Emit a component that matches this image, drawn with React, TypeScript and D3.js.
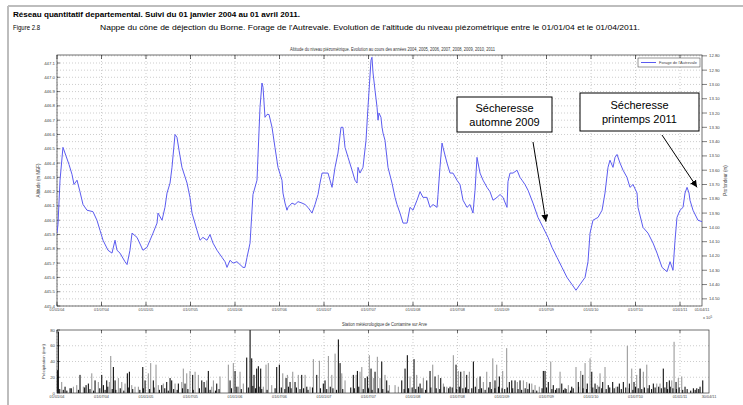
import React from 'react';
import * as d3 from 'd3';

// Piezometric level: [decimal year, altitude m NGF]
const levelSeries: [number, number][] = [
[2004.000,445.91],[2004.011,445.97],[2004.034,446.28],[2004.067,446.51],[2004.101,446.45],[2004.135,446.39],[2004.169,446.32],[2004.191,446.25],[2004.225,446.28],[2004.258,446.20],[2004.292,446.11],[2004.337,446.07],[2004.404,446.06],[2004.449,446.00],[2004.483,445.93],[2004.517,445.86],[2004.573,445.79],[2004.618,445.77],[2004.652,445.86],[2004.674,445.79],[2004.708,445.77],[2004.764,445.71],[2004.787,445.69],[2004.820,445.79],[2004.843,445.91],[2004.899,445.88],[2004.966,445.79],[2005.011,445.81],[2005.045,445.86],[2005.079,445.91],[2005.124,445.98],[2005.135,446.05],[2005.180,446.00],[2005.213,446.09],[2005.236,446.19],[2005.270,446.26],[2005.292,446.37],[2005.326,446.60],[2005.348,446.58],[2005.371,446.49],[2005.404,446.37],[2005.461,446.26],[2005.494,446.16],[2005.517,446.05],[2005.573,445.93],[2005.607,445.86],[2005.640,445.88],[2005.685,445.86],[2005.719,445.90],[2005.753,445.84],[2005.798,445.79],[2005.854,445.74],[2005.888,445.71],[2005.910,445.67],[2005.944,445.72],[2005.978,445.70],[2006.022,445.71],[2006.056,445.69],[2006.090,445.67],[2006.112,445.67],[2006.135,445.74],[2006.169,445.84],[2006.202,446.18],[2006.247,446.28],[2006.281,446.79],[2006.303,446.96],[2006.315,446.93],[2006.337,446.72],[2006.360,446.74],[2006.382,446.74],[2006.416,446.65],[2006.449,446.51],[2006.483,446.37],[2006.528,446.28],[2006.539,446.19],[2006.562,446.12],[2006.584,446.07],[2006.596,446.09],[2006.640,446.12],[2006.674,446.11],[2006.708,446.13],[2006.753,446.12],[2006.787,446.11],[2006.820,446.09],[2006.865,446.05],[2006.899,446.11],[2006.933,446.18],[2006.955,446.26],[2006.978,446.33],[2007.011,446.33],[2007.045,446.33],[2007.090,446.23],[2007.124,446.37],[2007.157,446.47],[2007.191,446.65],[2007.213,446.65],[2007.236,446.51],[2007.270,446.44],[2007.315,446.35],[2007.348,446.28],[2007.371,446.26],[2007.382,446.37],[2007.404,446.33],[2007.438,446.37],[2007.472,446.56],[2007.494,446.79],[2007.528,447.12],[2007.539,447.14],[2007.551,447.03],[2007.573,446.91],[2007.596,446.79],[2007.607,446.70],[2007.618,446.75],[2007.640,446.72],[2007.652,446.65],[2007.663,446.61],[2007.685,446.56],[2007.719,446.37],[2007.764,446.26],[2007.798,446.16],[2007.820,446.11],[2007.854,446.05],[2007.888,445.98],[2007.933,445.98],[2007.966,446.09],[2008.000,446.07],[2008.045,446.14],[2008.079,446.20],[2008.112,446.16],[2008.157,446.16],[2008.191,446.09],[2008.225,446.11],[2008.270,446.09],[2008.281,446.18],[2008.303,446.37],[2008.326,446.54],[2008.337,446.51],[2008.382,446.40],[2008.416,446.33],[2008.449,446.33],[2008.494,446.28],[2008.528,446.25],[2008.562,446.14],[2008.607,446.09],[2008.640,446.11],[2008.674,446.05],[2008.697,446.21],[2008.719,446.44],[2008.753,446.33],[2008.787,446.28],[2008.831,446.23],[2008.865,446.20],[2008.899,446.14],[2008.944,446.16],[2008.978,446.18],[2009.011,446.16],[2009.056,446.09],[2009.067,446.27],[2009.090,446.33],[2009.124,446.33],[2009.169,446.35],[2009.202,446.30],[2009.225,446.28],[2009.258,446.25],[2009.292,446.21],[2009.348,446.12],[2009.404,446.02],[2009.461,445.95],[2009.517,445.88],[2009.562,445.81],[2009.618,445.74],[2009.674,445.67],[2009.730,445.60],[2009.787,445.55],[2009.831,445.51],[2009.876,445.55],[2009.933,445.60],[2009.966,445.71],[2009.989,445.91],[2010.022,446.00],[2010.079,446.02],[2010.124,446.07],[2010.157,446.19],[2010.191,446.37],[2010.213,446.42],[2010.247,446.37],[2010.270,446.44],[2010.292,446.46],[2010.326,446.40],[2010.360,446.35],[2010.404,446.30],[2010.438,446.23],[2010.472,446.25],[2010.517,446.19],[2010.528,446.09],[2010.584,445.95],[2010.640,445.91],[2010.697,445.84],[2010.742,445.77],[2010.798,445.67],[2010.854,445.64],[2010.888,445.71],[2010.921,445.65],[2010.944,445.86],[2010.966,446.02],[2011.000,446.07],[2011.034,446.09],[2011.056,446.19],[2011.079,446.23],[2011.101,446.19],[2011.112,446.14],[2011.146,446.07],[2011.202,446.00],[2011.247,445.99]
];

// Daily rainfall, gauge 1 (dark bars): [decimal year, mm]
const rainDark: [number, number][] = [
[2004.005,29],[2004.015,78],[2004.090,8],[2004.146,6],[2004.258,23],[2004.326,10],[2004.352,12],[2004.427,16],[2004.502,23],[2004.521,10],[2004.558,16],[2004.633,33],[2004.652,16],[2004.790,25],[2004.813,27],[2004.963,33],[2004.989,16],[2005.082,16],[2005.176,10],[2005.232,14],[2005.270,19],[2005.288,16],[2005.363,12],[2005.438,12],[2005.524,23],[2005.626,16],[2005.652,14],[2005.700,28],[2005.794,12],[2005.944,16],[2006.000,28],[2006.131,45],[2006.169,80],[2006.187,44],[2006.213,23],[2006.243,31],[2006.262,34],[2006.288,31],
[2006.468,33],[2006.498,36],[2006.573,19],[2006.618,14],[2006.674,14],[2006.749,23],[2006.806,8],[2006.918,23],[2006.992,12],[2007.011,16],[2007.161,68],[2007.180,38],[2007.329,23],[2007.375,28],[2007.461,19],[2007.487,21],[2007.528,31],[2007.573,27],[2007.648,40],[2007.704,16],[2007.873,16],[2007.910,31],[2007.936,48],[2008.011,43],[2008.079,12],[2008.154,16],[2008.191,28],[2008.247,21],[2008.311,19],[2008.416,8],[2008.483,36],[2008.536,27],[2008.603,23],[2008.678,40],[2008.753,21],[2008.865,14],
[2008.921,16],[2008.970,21],[2009.082,14],[2009.109,16],[2009.146,16],[2009.202,16],[2009.307,12],[2009.464,28],[2009.483,28],[2009.520,14],[2009.576,10],[2009.615,6],[2009.671,12],[2009.708,6],[2009.783,8],[2009.857,14],[2009.907,23],[2009.958,12],[2010.008,27],[2010.045,12],[2010.131,14],[2010.194,10],[2010.243,14],[2010.318,12],[2010.363,14],[2010.431,12],[2010.483,14],[2010.551,31],[2010.655,10],[2010.700,12],[2010.812,31],[2010.851,14],[2010.880,16],[2010.955,14],[2011.056,8],[2011.150,6],[2011.188,6],[2011.225,8],[2011.255,16]
];

// Daily rainfall, gauge 2 (grey bars): [decimal year, mm]
const rainGrey: [number, number][] = [
[2004.052,14],[2004.184,8],[2004.221,10],[2004.296,8],[2004.390,25],[2004.464,14],[2004.588,14],[2004.603,47],[2004.689,19],[2004.727,14],[2004.764,12],[2004.839,10],[2004.876,8],[2004.914,8],[2005.026,25],[2005.052,38],[2005.112,36],[2005.138,10],[2005.194,12],[2005.326,12],[2005.401,14],[2005.419,31],[2005.457,25],[2005.494,28],[2005.551,27],[2005.588,23],[2005.682,16],[2005.738,8],[2005.757,16],[2005.831,21],[2005.925,36],[2005.981,38],[2006.037,8],[2006.056,27],[2006.093,12],[2006.318,8],[2006.348,36],[2006.374,38],[2006.412,10],
[2006.536,25],[2006.588,23],[2006.648,27],[2006.711,23],[2006.787,23],[2006.843,8],[2006.880,43],[2006.948,41],[2007.049,47],[2007.087,23],[2007.124,50],[2007.199,25],[2007.236,16],[2007.360,23],[2007.404,27],[2007.424,33],[2007.509,48],[2007.554,19],[2007.599,46],[2007.629,19],[2007.685,23],[2007.734,10],[2007.798,10],[2007.835,8],[2007.966,21],[2008.041,23],[2008.116,19],[2008.221,36],[2008.284,23],[2008.341,12],[2008.379,8],[2008.453,48],[2008.509,28],[2008.573,28],[2008.633,27],[2008.716,19],[2008.790,14],[2008.828,27],[2008.896,44],
[2008.940,36],[2009.007,28],[2009.052,57],[2009.172,14],[2009.240,16],[2009.277,14],[2009.334,12],[2009.371,10],[2009.419,8],[2009.547,40],[2009.652,27],[2009.745,10],[2009.831,33],[2009.884,28],[2009.933,38],[2009.989,44],[2010.071,10],[2010.101,25],[2010.157,33],[2010.281,8],[2010.408,60],[2010.457,31],[2010.513,23],[2010.588,27],[2010.626,36],[2010.738,12],[2010.775,12],[2010.907,16],[2010.933,65],[2010.981,19],[2011.019,21]
];

// Small daily amounts (dark bars)
const rainSmall: [number, number][] = [
[2004.03,5],[2004.07,4],[2004.11,3],[2004.16,6],[2004.24,4],[2004.31,7],[2004.37,5],[2004.41,3],[2004.48,6],[2004.54,4],[2004.57,8],[2004.62,5],[2004.66,4],[2004.71,6],[2004.75,3],[2004.80,7],[2004.85,5],[2004.93,4],[2004.97,6],[2005.04,5],[2005.09,7],[2005.15,4],[2005.21,6],[2005.25,3],[2005.31,5],[2005.35,4],[2005.41,6],[2005.47,5],[2005.53,4],[2005.60,6],[2005.67,7],[2005.72,4],[2005.78,3],[2005.82,5],[2005.96,6],[2006.02,8],[2006.07,5],[2006.15,7],[2006.20,9],[2006.23,6],[2006.27,8],[2006.30,5],[2006.36,4],[2006.45,6],[2006.52,7],[2006.56,5],[2006.60,8],[2006.63,6],[2006.69,7],[2006.73,5],[2006.77,6],[2006.82,4],[2006.87,7],[2006.96,6],[2007.03,5],[2007.07,8],[2007.10,6],[2007.14,4],[2007.21,5],[2007.30,7],[2007.34,6],[2007.39,8],[2007.44,5],[2007.50,6],[2007.54,4],[2007.61,6],[2007.66,5],[2007.72,3],[2007.90,5],[2007.95,6],[2007.99,7],[2008.03,5],[2008.06,8],[2008.10,6],[2008.14,4],[2008.20,7],[2008.26,6],[2008.30,5],[2008.35,8],[2008.40,6],[2008.44,7],[2008.49,5],[2008.52,8],[2008.56,6],[2008.59,7],[2008.62,5],[2008.66,6],[2008.70,8],[2008.74,5],[2008.77,6],[2008.81,4],[2008.85,7],[2008.88,5],[2008.92,6],[2008.96,8],[2009.00,6],[2009.03,5],[2009.06,7],[2009.12,6],[2009.18,5],[2009.22,4],[2009.26,6],[2009.29,5],[2009.35,4],[2009.39,3],[2009.45,6],[2009.50,7],[2009.56,5],[2009.60,4],[2009.64,6],[2009.69,4],[2009.72,5],[2009.77,3],[2009.80,6],[2009.86,8],[2009.91,6],[2009.95,5],[2010.02,7],[2010.06,5],[2010.09,8],[2010.12,6],[2010.17,5],[2010.21,7],[2010.26,6],[2010.30,8],[2010.34,5],[2010.39,7],[2010.43,6],[2010.47,4],[2010.50,8],[2010.53,6],[2010.57,5],[2010.60,7],[2010.64,6],[2010.68,5],[2010.72,7],[2010.76,8],[2010.79,6],[2010.83,7],[2010.86,5],[2010.89,8],[2010.92,6],[2010.96,5],[2010.99,7],[2011.03,4],[2011.08,5],[2011.12,3],[2011.17,4],[2011.21,5]
];

const altTicks = [445.4,445.5,445.6,445.7,445.8,445.9,446.0,446.1,446.2,446.3,446.4,446.5,446.6,446.7,446.8,446.9,447.0,447.1];
const depthTicks = [12.8,12.9,13.0,13.1,13.2,13.3,13.4,13.5,13.6,13.7,13.8,13.9,14.0,14.1,14.2,14.3,14.4,14.5];
const groundAlt = 459.95;
const xTickYears = [2004,2004.5,2005,2005.5,2006,2006.5,2007,2007.5,2008,2008.5,2009,2009.5,2010,2010.5,2011];
const xTickLabels = ['01/01/04','01/07/04','01/01/05','01/07/05','01/01/06','01/07/06','01/01/07','01/07/07','01/01/08','01/07/08','01/01/09','01/07/09','01/01/10','01/07/10','01/01/11'];
const mainEnd = 2011.247;
const mainEndLabel = '01/04/11';
const rainEnd = 2011.326;
const rainEndLabel = '30/04/11';
const rainTicks = [0,20,40,60,80];

const header1 = 'Réseau quantitatif departemental. Suivi du 01 janvier 2004 au 01 avril 2011.';
const header2a = 'Figure 2.8';
const header2b = "Nappe du cône de déjection du Borne. Forage de l'Autrevale. Evolution de l'altitude du niveau piézométrique entre le 01/01/04 et le 01/04/2011.";
const mainTitle = 'Altitude du niveau piézométrique. Evolution au cours des années 2004, 2005, 2006, 2007, 2008, 2009, 2010, 2011';
const rainTitle = 'Station météorologique de Contamine sur Arve';
const legendLabel = "Forage de l'Autrevale";
const notes = [
  { lines: ['Sécheresse', 'automne 2009'], box: [457, 97, 95, 35], from: [533, 142], to: [2009.494, 445.99] },
  { lines: ['Sécheresse', 'printemps 2011'], box: [580, 93, 119, 38], from: [662, 135], to: [2011.191, 446.23] },
];

const FONT = "'Liberation Sans', Arial, Helvetica, sans-serif";

export default function App() {
  const L = 57, R = 702, T = 55, B = 306;
  const x = d3.scaleLinear().domain([2004, mainEnd]).range([L, R]);
  const y = d3.scaleLinear().domain([445.4, 447.1]).range([B, 63]);
  const yd = d3.scaleLinear().domain([groundAlt - 445.4, groundAlt - 447.1]).range([B, 63]);
  const RR = 709, RT = 330, RB = 393;
  const xr = d3.scaleLinear().domain([2004, rainEnd]).range([L, RR]);
  const yr = d3.scaleLinear().domain([0, 80]).range([RB, RT]);

  const line = d3.line<[number, number]>().x(d => x(d[0])).y(d => y(d[1]));
  const grid = { stroke: '#9a9a9a', strokeWidth: 0.5, strokeDasharray: '1,2' };
  const tickText = { fontFamily: FONT, fontSize: 4.3, fill: '#444' };
  const bar = (d: [number, number], i: number, color: string) => {
    const v = Math.min(d[1], 80);
    return <rect key={color + i} x={xr(d[0]) - 0.5} y={yr(v)} width={1.1} height={yr(0) - yr(v)} fill={color} />;
  };

  return (
    <svg width={743} height={405} style={{ position: 'absolute', left: 0, top: 0, background: '#fff' }}>
      <defs>
        <marker id="ah" viewBox="0 0 10 10" refX="10" refY="5" markerWidth="7" markerHeight="7" orient="auto-start-reverse" markerUnits="userSpaceOnUse">
          <path d="M0,0 L10,5 L0,10 z" fill="#000" />
        </marker>
        <clipPath id="mainClip"><rect x={L} y={T} width={R - L} height={B - T} /></clipPath>
      </defs>
      {/* page frame */}
      <line x1={8} y1={6} x2={743} y2={6} stroke="#bdbdbd" strokeWidth={2} />
      <line x1={8} y1={6} x2={8} y2={405} stroke="#bdbdbd" strokeWidth={2} />
      <text x={13} y={17} fontFamily={FONT} fontSize={7} fontWeight="bold" textLength={287} lengthAdjust="spacingAndGlyphs">{header1}</text>
      <text x={13} y={30} fontFamily={FONT} fontSize={7} textLength={27} lengthAdjust="spacingAndGlyphs">{header2a}</text>
      <text x={100} y={30} fontFamily={FONT} fontSize={7} textLength={540} lengthAdjust="spacingAndGlyphs">{header2b}</text>

      {/* main chart */}
      <text x={290} y={51} fontFamily={FONT} fontSize={4.5} fill="#333" textLength={205} lengthAdjust="spacingAndGlyphs">{mainTitle}</text>
      {altTicks.map(v => <line key={'ga' + v} x1={L} x2={R} y1={y(v)} y2={y(v)} {...grid} />)}
      {depthTicks.map(v => <line key={'gd' + v} x1={L} x2={R} y1={yd(v)} y2={yd(v)} {...grid} />)}
      {xTickYears.map(v => <line key={'gx' + v} x1={x(v)} x2={x(v)} y1={T} y2={B} {...grid} />)}
      {xTickYears.map(v => <g key={'tx' + v}>
        <line x1={x(v)} x2={x(v)} y1={T} y2={T + 4} stroke="#000" strokeWidth={0.6} />
        <line x1={x(v)} x2={x(v)} y1={B} y2={B - 4} stroke="#000" strokeWidth={0.6} />
      </g>)}
      <rect x={L} y={T} width={R - L} height={B - T} fill="none" stroke="#333" strokeWidth={0.7} />
      {altTicks.map(v => <g key={'la' + v}>
        <line x1={L} x2={L + 3} y1={y(v)} y2={y(v)} stroke="#000" strokeWidth={0.5} />
        <text x={L - 2} y={y(v) + 1.5} textAnchor="end" {...tickText}>{d3.format('.1f')(v)}</text>
      </g>)}
      {depthTicks.map(v => <g key={'ld' + v}>
        <line x1={R} x2={R + 5} y1={yd(v)} y2={yd(v)} stroke="#000" strokeWidth={0.5} />
        <text x={R + 7} y={yd(v) + 1.5} {...tickText}>{d3.format('.2f')(v)}</text>
      </g>)}
      {xTickYears.map((v, i) => <text key={'xl' + v} x={x(v)} y={311} textAnchor="middle" {...tickText} fontSize={3.8}>{xTickLabels[i]}</text>)}
      <text x={x(mainEnd)} y={311} textAnchor="middle" {...tickText} fontSize={3.8}>{mainEndLabel}</text>
      <text x={703} y={319} {...tickText} fontSize={4}>x 10<tspan dy={-1.5} fontSize={3}>5</tspan></text>
      <text transform={`translate(40,${(T + B) / 2}) rotate(-90)`} textAnchor="middle" {...tickText} fontSize={4.5}>Altitude (m NGF)</text>
      <text transform={`translate(727,${(T + B) / 2}) rotate(-90)`} textAnchor="middle" {...tickText} fontSize={4.5}>Profondeur (m)</text>
      <path d={line(levelSeries) || ''} fill="none" stroke="#5b5bf0" strokeWidth={1} clipPath="url(#mainClip)" />

      {/* legend */}
      <rect x={638} y={58} width={62} height={9} fill="#fff" stroke="#333" strokeWidth={0.5} />
      <line x1={641} x2={656} y1={62.5} y2={62.5} stroke="#5b5bf0" strokeWidth={1} />
      <text x={659} y={64} {...tickText} fontSize={3.8} textLength={38} lengthAdjust="spacingAndGlyphs">{legendLabel}</text>

      {/* annotations */}
      {notes.map((n, i) => <g key={'n' + i}>
        <rect x={n.box[0]} y={n.box[1]} width={n.box[2]} height={n.box[3]} fill="#fff" stroke="#000" strokeWidth={1} />
        <text x={n.box[0] + n.box[2] / 2} y={n.box[1] + n.box[3] / 2 - 3} textAnchor="middle" fontFamily={FONT} fontSize={11}>{n.lines[0]}</text>
        <text x={n.box[0] + n.box[2] / 2} y={n.box[1] + n.box[3] / 2 + 11} textAnchor="middle" fontFamily={FONT} fontSize={11}>{n.lines[1]}</text>
        <line x1={n.from[0]} y1={n.from[1]} x2={x(n.to[0])} y2={y(n.to[1])} stroke="#000" strokeWidth={1} markerEnd="url(#ah)" />
      </g>)}

      {/* rain chart */}
      <text x={342} y={326} fontFamily={FONT} fontSize={4.5} fill="#333" textLength={85} lengthAdjust="spacingAndGlyphs">{rainTitle}</text>
      {rainTicks.slice(1, -1).map(v => <line key={'gr' + v} x1={L} x2={RR} y1={yr(v)} y2={yr(v)} {...grid} />)}
      {xTickYears.map(v => <line key={'grx' + v} x1={xr(v)} x2={xr(v)} y1={RT} y2={RB} {...grid} />)}
      {rainGrey.map((d, i) => bar(d, i, '#9b9b9b'))}
      {rainSmall.map((d, i) => bar(d, i, '#111'))}
      {rainDark.map((d, i) => bar(d, i, '#111'))}
      {xTickYears.map(v => <g key={'rtx' + v}>
        <line x1={xr(v)} x2={xr(v)} y1={RT} y2={RT + 3} stroke="#000" strokeWidth={0.6} />
      </g>)}
      <rect x={L} y={RT} width={RR - L} height={RB - RT} fill="none" stroke="#333" strokeWidth={0.7} />
      {rainTicks.map(v => <g key={'rl' + v}>
        <line x1={L} x2={L + 3} y1={yr(v)} y2={yr(v)} stroke="#000" strokeWidth={0.5} />
        <text x={L - 2} y={yr(v) + 1.5} textAnchor="end" {...tickText}>{v}</text>
      </g>)}
      {xTickYears.map((v, i) => <text key={'rxl' + v} x={xr(v)} y={398} textAnchor="middle" {...tickText} fontSize={3.8}>{xTickLabels[i]}</text>)}
      <text x={xr(rainEnd)} y={398} textAnchor="middle" {...tickText} fontSize={3.8}>{rainEndLabel}</text>
      <text transform={`translate(45,${(RT + RB) / 2}) rotate(-90)`} textAnchor="middle" {...tickText} fontSize={4.3}>Précipitation (mm)</text>
    </svg>
  );
}
